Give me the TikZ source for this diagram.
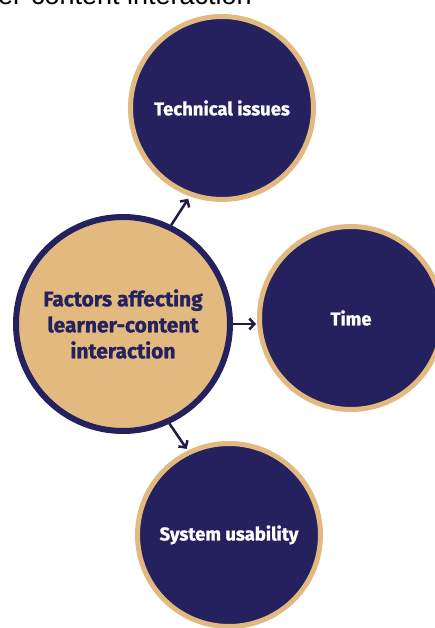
\documentclass[tikz,border=0pt]{standalone}
\usepackage{fontspec}
\setmainfont{Fira Sans}[BoldFeatures={FakeBold=1}]
\newfontfamily\titlefont{Liberation Sans}
\usepackage{tikz}
\usetikzlibrary{positioning,calc,arrows.meta}
\definecolor{navy}{HTML}{25215E}
\definecolor{sand}{HTML}{E2B97F}
\definecolor{linkc}{HTML}{1E1B45}

\begin{document}
\begin{tikzpicture}[x=1pt,y=1pt,
  factor/.style={circle,draw=sand,fill=navy,line width=5pt,minimum size=183pt,
    text=white,align=center,font=\bfseries\fontsize{18.5}{22}\selectfont},
  centre/.style={circle,draw=navy,fill=sand,line width=6pt,minimum size=214pt,
    text=navy,align=center,font=\bfseries\fontsize{21}{26}\selectfont},
  link/.style={-{Straight Barb[length=5pt,width=11pt]},line width=2.5pt,draw=linkc}]
\useasboundingbox (0,0) rectangle (434,628);
\node[anchor=base east,inner sep=0pt,font=\titlefont\fontsize{27}{30}\selectfont] (title) at (252,623) {er-content interaction};
\node[factor] (tech) at (222,520) {Technical issues};
\node[centre] (factors) at (123,304) {Factors affecting\\learner-content\\interaction};
\node[factor] (time) at (351,310) {Time};
\node[factor] (usab) at (229,93) {System usability};
\draw[link,shorten >=3pt] (factors.64) -- (tech.250);
\draw[link,shorten >=1pt] (factors.east) -- (factors.east -| time.west);
\draw[link,shorten >=2pt] (factors.-65) -- (usab.116);
\end{tikzpicture}
\end{document}
